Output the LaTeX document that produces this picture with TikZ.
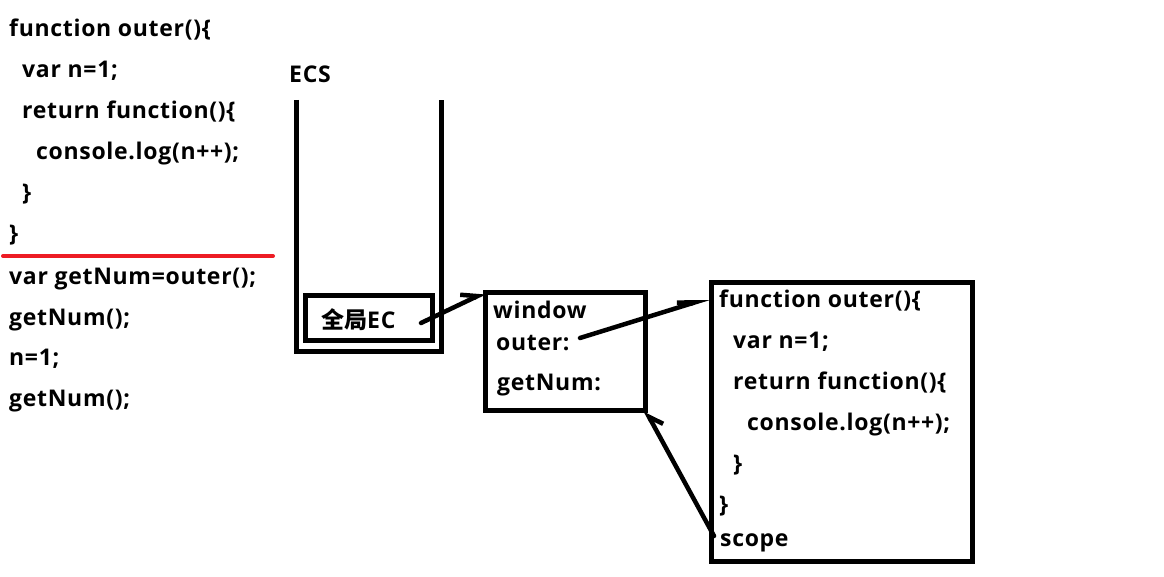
\documentclass[tikz,border=0pt]{standalone}
\usepackage{fontspec}
\setmainfont{Open Sans}[LetterSpace=3]
\newfontfamily\cjk{Noto Sans CJK SC}
\usetikzlibrary{arrows.meta}
\definecolor{paintred}{RGB}{237,28,36}
\begin{document}
\begin{tikzpicture}[x=1pt,y=-1pt,
  code/.style={anchor=base west, inner sep=0pt, font=\fontsize{23}{23}\selectfont\bfseries},
  box/.style={draw, line width=5pt, inner sep=0pt, outer sep=0pt, anchor=north west},
  link/.style={line width=4.5pt, line cap=round},
  redrule/.style={draw=paintred, line width=4pt, line cap=round}]
\useasboundingbox (0,0) rectangle (1164,577);
% left code
\node[code] (l1) at (9,37) {function outer()\{};
\node[code] (l2) at (22,78) {var n=1;};
\node[code] (l3) at (22,119) {return function()\{};
\node[code] (l4) at (36,160) {console.log(n++);};
\node[code] (l5) at (22,201) {\}};
\node[code] (l6) at (9,242) {\}};
\coordinate (rl) at (3,256);
\coordinate (rr) at (273,256);
\draw[redrule] (rl) -- (rr);
\node[code] (l7) at (9,284) {var getNum=outer();};
\node[code] (l8) at (9,325) {getNum();};
\node[code] (l9) at (9,365) {n=1;};
\node[code] (l10) at (9,406) {getNum();};
% ECS stack
\node[code] (ecs) at (289,83) {ECS};
\coordinate (s1) at (296.5,100);
\coordinate (s2) at (296.5,351);
\coordinate (s3) at (441,351);
\coordinate (s4) at (441,100);
\draw[line width=5pt] (s1) -- (s2) -- (s3) -- (s4);
\node[box, minimum width=127pt, minimum height=45pt] (gec) at (305.5,295.5) {};
\node[code] (gect) at (321,328) {{\cjk\bfseries 全局}EC};
% window box
\node[box, minimum width=160.5pt, minimum height=118pt] (win) at (485,292.5) {};
\node[code] (w1) at (493,318) {window};
\node[code] (w2) at (496,350) {outer:};
\node[code] (w3) at (497,390) {getNum:};
% function box
\node[box, minimum width=260.5pt, minimum height=278.5pt] (fn) at (711.5,282.5) {};
\node[code] (f1) at (719,307) {function outer()\{};
\node[code] (f2) at (733,348) {var n=1;};
\node[code] (f3) at (733,389) {return function()\{};
\node[code] (f4) at (747,430) {console.log(n++);};
\node[code] (f5) at (733,471) {\}};
\node[code] (f6) at (719,512) {\}};
\node[code] (f7) at (720,546) {scope};
% connectors
\coordinate (a1) at (421,323);
\coordinate (a2) at (580,338);
\coordinate (fnin) at (709,298);
\coordinate (a3) at (714,536);
\draw[link, -{Straight Barb[harpoon, length=15pt, angle'=60]}] (a1) -- (win.north west);
\draw[link, -{Straight Barb[harpoon, length=17pt, angle'=34]}] (a2) -- (fnin);
\draw[link, -{Straight Barb[harpoon, swap, length=13pt, angle'=70]}] (a3) -- (win.south east);
\end{tikzpicture}
\end{document}
